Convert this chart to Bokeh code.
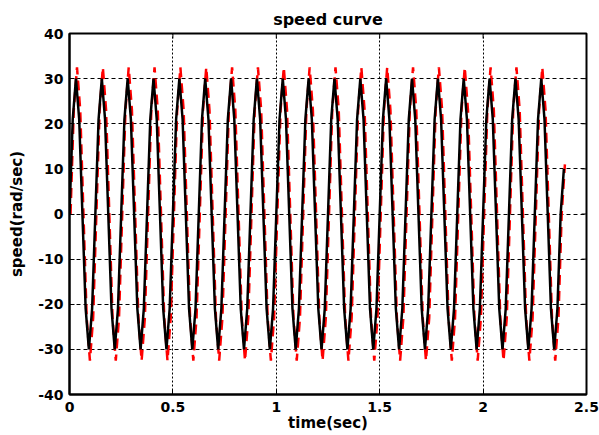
import math
from bokeh.plotting import figure
from bokeh.models import FixedTicker, Range1d
from bokeh.embed import file_html
from bokeh.resources import INLINE

# sample step of the recorded signals (s)
dt = 0.015625
# the reference trace trails the measured one slightly (s)
ref_delay = 0.005

# reference speed (red dashed), rad/sec
speed_ref = [
    0, 23, 32.5, 23, 0, -23, -32.5, -23,
    0, 23, 32.5, 23, 0, -23, -32.5, -23,
    0, 23, 32.5, 23, 0, -23, -32.5, -23,
    0, 23, 32.5, 23, 0, -23, -32.5, -23,
    0, 23, 32.5, 23, 0, -23, -32.5, -23,
    0, 23, 32.5, 23, 0, -23, -32.5, -23,
    0, 23, 32.5, 23, 0, -23, -32.5, -23,
    0, 23, 32.5, 23, 0, -23, -32.5, -23,
    0, 23, 32.5, 23, 0, -23, -32.5, -23,
    0, 23, 32.5, 23, 0, -23, -32.5, -23,
    0, 23, 32.5, 23, 0, -23, -32.5, -23,
    0, 23, 32.5, 23, 0, -23, -32.5, -23,
    0, 23, 32.5, 23, 0, -23, -32.5, -23,
    0, 23, 32.5, 23, 0, -23, -32.5, -23,
    0, 23, 32.5, 23, 0, -23, -32.5, -23,
    0, 23, 32.5, 23, 0, -23, -32.5, -23,
    0, 23, 32.5, 23, 0, -23, -32.5, -23,
    0, 23, 32.5, 23, 0, -23, -32.5, -23,
    0, 23, 32.5, 23, 0, -23, -32.5, -23,
    0, 11,
]

speed_act = [
    0, 21, 30, 21, 0, -21, -30, -21,
    0, 21, 30, 21, 0, -21, -30, -21,
    0, 21, 30, 21, 0, -21, -30, -21,
    0, 21, 30, 21, 0, -21, -30, -21,
    0, 21, 30, 21, 0, -21, -30, -21,
    0, 21, 30, 21, 0, -21, -30, -21,
    0, 21, 30, 21, 0, -21, -30, -21,
    0, 21, 30, 21, 0, -21, -30, -21,
    0, 21, 30, 21, 0, -21, -30, -21,
    0, 21, 30, 21, 0, -21, -30, -21,
    0, 21, 30, 21, 0, -21, -30, -21,
    0, 21, 30, 21, 0, -21, -30, -21,
    0, 21, 30, 21, 0, -21, -30, -21,
    0, 21, 30, 21, 0, -21, -30, -21,
    0, 21, 30, 21, 0, -21, -30, -21,
    0, 21, 30, 21, 0, -21, -30, -21,
    0, 21, 30, 21, 0, -21, -30, -21,
    0, 21, 30, 21, 0, -21, -30, -21,
    0, 21, 30, 21, 0, -21, -30, -21,
    0, 10,
]

time_act = [i * dt for i in range(len(speed_act))]
time_ref = [i * dt + ref_delay for i in range(len(speed_ref))]

x_ticks = [0.0, 0.5, 1.0, 1.5, 2.0, 2.5]
x_tick_labels = ["0", "0.5", "1", "1.5", "2", "2.5"]
y_ticks = [-40.0, -30.0, -20.0, -10.0, 0.0, 10.0, 20.0, 30.0, 40.0]
y_tick_labels = ["-40", "-30", "-20", "-10", "0", "10", "20", "30", "40"]
x_min, x_max = 0.0, 2.5
y_min, y_max = -40.0, 40.0

FONT = "DejaVu Sans"

p = figure(width=599, height=435,
           x_range=Range1d(x_min, x_max), y_range=Range1d(y_min, y_max),
           output_backend="svg", toolbar_location=None,
           min_border_left=69, min_border_right=13,
           min_border_top=33, min_border_bottom=41,
           title="speed curve")

p.background_fill_color = "white"
p.border_fill_color = "white"
p.outline_line_color = "black"
p.outline_line_width = 2

p.title.align = "center"
p.title.text_font = FONT
p.title.text_font_style = "bold"
p.title.text_font_size = "16px"
p.title.text_color = "black"
p.title.standoff = 10

xa = p.xaxis[0]
xa.ticker = FixedTicker(ticks=x_ticks)
xa.major_label_overrides = dict(zip(x_ticks, x_tick_labels))
ya = p.yaxis[0]
ya.ticker = FixedTicker(ticks=y_ticks)
ya.major_label_overrides = dict(zip(y_ticks, y_tick_labels))

for ax in (xa, ya):
    ax.major_tick_in = 5
    ax.major_tick_out = 0
    ax.minor_tick_line_color = None
    ax.axis_line_width = 2
    ax.axis_line_color = "black"
    ax.major_tick_line_color = "black"
    ax.major_tick_line_width = 1
    ax.major_label_text_font = FONT
    ax.major_label_text_font_style = "bold"
    ax.major_label_text_font_size = "14px"
    ax.major_label_text_color = "black"
    ax.axis_label_text_font = FONT
    ax.axis_label_text_font_style = "bold"
    ax.axis_label_text_font_size = "15px"
    ax.axis_label_text_color = "black"

xa.axis_label = "time(sec)"
xa.major_label_standoff = 7
xa.axis_label_standoff = -1
ya.axis_label = "speed(rad/sec)"
ya.major_label_standoff = 6
ya.axis_label_standoff = 9

p.xgrid.grid_line_color = "black"
p.xgrid.grid_line_dash = "2 2"
p.xgrid.grid_line_width = 1
p.ygrid.grid_line_color = "black"
p.ygrid.grid_line_dash = "4 3"
p.ygrid.grid_line_width = 1

# inward ticks on the top and right edges of the box
p.ray(x=x_ticks, y=[y_max] * len(x_ticks), length=5, length_units="screen",
      angle=-math.pi / 2, line_color="black", line_width=1)
p.ray(x=[x_max] * len(y_ticks), y=y_ticks, length=5, length_units="screen",
      angle=math.pi, line_color="black", line_width=1)

p.line(time_ref, speed_ref, line_color="red", line_width=2.5, line_dash="10 6")
p.line(time_act, speed_act, line_color="black", line_width=2.5)

open("out.html", "w").write(file_html(p, INLINE))
